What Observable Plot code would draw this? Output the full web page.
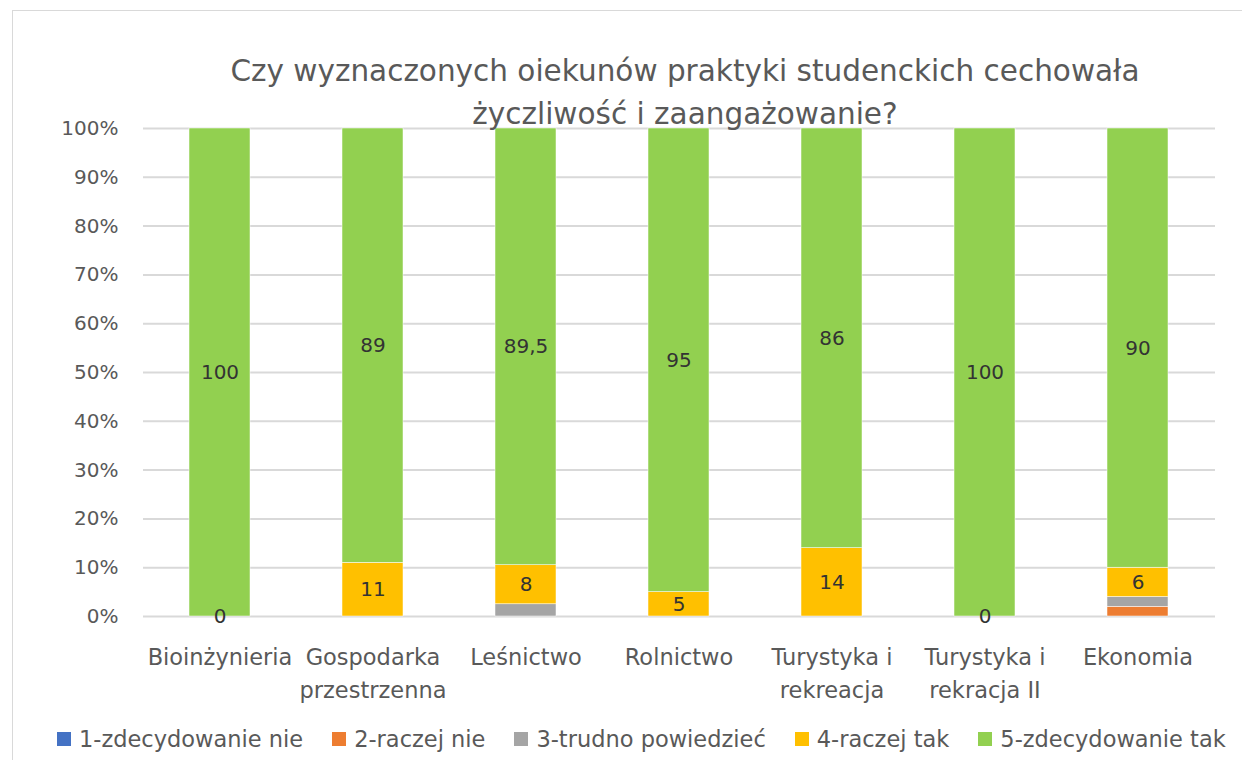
<!DOCTYPE html>
<html>
<head>
<meta charset="utf-8">
<script src="https://cdn.jsdelivr.net/npm/d3@7"></script>
<script src="https://cdn.jsdelivr.net/npm/@observablehq/plot@0.6"></script>
<style>
  html, body { margin: 0; padding: 0; background: #fff; }
  #wrap { position: relative; width: 1242px; height: 760px; overflow: hidden; font-family: "DejaVu Sans", sans-serif; }
  #frame { position: absolute; left: 12px; top: 10px; width: 1300px; height: 800px; border: 1.5px solid #d9d9d9; box-sizing: border-box; }
  #chart { position: absolute; left: 0; top: 0; }
  #title { position: absolute; left: 185px; width: 1000px; top: 50px; text-align: center; font-size: 29.5px; line-height: 43px; color: #595959; white-space: nowrap; }
  #legend { position: absolute; left: 57px; top: 726px; display: flex; gap: 29px; font-size: 22.5px; color: #595959; white-space: nowrap; }
  .item { display: flex; align-items: center; gap: 8px; }
  .sw { width: 14px; height: 14px; display: inline-block; }
</style>
</head>
<body>
<div id="wrap">
  <div id="frame"></div>
  <div id="chart"></div>
  <div id="title">Czy wyznaczonych oiekunów praktyki studenckich cechowała<br>życzliwość i zaangażowanie?</div>
  <div id="legend"></div>
</div>
<script>
const categories = ["Bioinżynieria", "Gospodarka przestrzenna", "Leśnictwo", "Rolnictwo", "Turystyka i rekreacja", "Turystyka i rekracja II", "Ekonomia"];
const categoryLabels = ["Bioinżynieria", "Gospodarka\nprzestrzenna", "Leśnictwo", "Rolnictwo", "Turystyka i\nrekreacja", "Turystyka i\nrekracja II", "Ekonomia"];
const seriesNames = ["1-zdecydowanie nie", "2-raczej nie", "3-trudno powiedzieć", "4-raczej tak", "5-zdecydowanie tak"];
const seriesColors = ["#4472C4", "#ED7D31", "#A5A5A5", "#FFC000", "#92D050"];
const s1 = [0, 0, 0, 0, 0, 0, 0];
const s2 = [0, 0, 0, 0, 0, 0, 2];
const s3 = [0, 0, 2.5, 0, 0, 0, 2];
const s4 = [0, 11, 8, 5, 14, 0, 6];
const s5 = [100, 89, 89.5, 95, 86, 100, 90];
const labeledSeries = ["4-raczej tak", "5-zdecydowanie tak"];
const yTicks = [0, 10, 20, 30, 40, 50, 60, 70, 80, 90, 100];

const seriesValues = [s1, s2, s3, s4, s5];
const data = [];
seriesNames.forEach((s, si) => {
  categories.forEach((c, ci) => {
    data.push({cat: c, series: s, value: seriesValues[si][ci]});
  });
});
const fmt = v => String(v).replace(".", ",");
const labelOf = Object.fromEntries(categories.map((c, i) => [c, categoryLabels[i]]));

const plot = Plot.plot({
  width: 1242,
  height: 760,
  marginTop: 128,
  marginBottom: 144,
  marginLeft: 143,
  marginRight: 27,
  style: {fontFamily: "'DejaVu Sans', sans-serif", background: "transparent", overflow: "visible"},
  x: {domain: categories, paddingInner: 0.6, paddingOuter: 0.3, label: null, axis: null},
  y: {domain: [0, 100], label: null, axis: null},
  color: {domain: seriesNames, range: seriesColors},
  marks: [
    Plot.ruleY(yTicks, {stroke: "#d9d9d9", strokeWidth: 2}),
    Plot.axisY(yTicks, {tickSize: 0, tickPadding: 25, tickFormat: d => d + "%", fontSize: 20, fill: "#595959", label: null}),
    Plot.axisX({tickSize: 0, tickPadding: 25, tickFormat: d => labelOf[d], fontSize: 22.5, fill: "#595959", lineHeight: 1.47, label: null}),
    Plot.barY(data, {x: "cat", y: "value", fill: "series", z: "series", order: seriesNames, stroke: "#fff", strokeWidth: 0.5, inset: 0}),
    Plot.text(data, Plot.stackY({x: "cat", y: "value", z: "series", order: seriesNames,
      text: d => labeledSeries.includes(d.series) ? fmt(d.value) : null,
      fontSize: 20, fill: "#333333"}))
  ]
});
document.getElementById("chart").appendChild(plot);

const legend = document.getElementById("legend");
seriesNames.forEach((s, i) => {
  const it = document.createElement("div");
  it.className = "item";
  it.innerHTML = `<span class="sw" style="background:${seriesColors[i]}"></span><span>${s}</span>`;
  legend.appendChild(it);
});
</script>
</body>
</html>
